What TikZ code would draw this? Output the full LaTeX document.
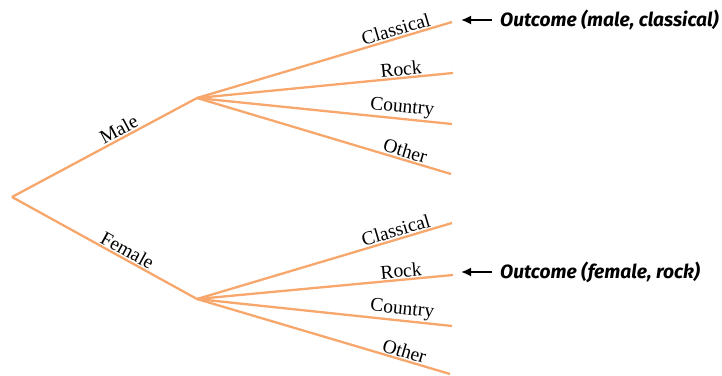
\documentclass[tikz,border=0pt]{standalone}
\usepackage{fontspec}
\setmainfont{Liberation Serif}
\newfontfamily\outfont{Fira Sans}
\usetikzlibrary{arrows.meta}
\definecolor{branch}{RGB}{247,166,108}
\tikzset{
  br/.style={draw=branch, line width=2.3pt},
  lab/.style={above, sloped, inner sep=1.2pt, font=\fontsize{19.5}{21}\selectfont},
  outtxt/.style={anchor=west, inner sep=0pt, font=\outfont\bfseries\itshape\fontsize{19.2}{21}\selectfont},
  outarrow/.style={line width=1.8pt, -{Latex[length=10pt,width=9pt]}}
}
\begin{document}
\begin{tikzpicture}[x=1pt,y=-1pt]
\useasboundingbox (0,0) rectangle (722,375);
\coordinate (root) at (12,197);
\coordinate (male) at (197,98);
\coordinate (female) at (197,299);
\coordinate (mc) at (452,22);
\coordinate (mr) at (453,73);
\coordinate (mo) at (452,124);
\coordinate (mx) at (451,174);
\coordinate (fc) at (452,223);
\coordinate (fr) at (453,275);
\coordinate (fo) at (452,326);
\coordinate (fx) at (450,374);
\draw[br] (root) -- node[lab, pos=0.6] {Male} (male);
\draw[br] (root) -- node[lab, pos=0.6] {Female} (female);
\draw[br] (male) -- node[lab, pos=0.79] {Classical} (mc);
\draw[br] (male) -- node[lab, pos=0.8] {Rock} (mr);
\draw[br] (male) -- node[lab, pos=0.8] {Country} (mo);
\draw[br] (male) -- node[lab, pos=0.81] {Other} (mx);
\draw[br] (female) -- node[lab, pos=0.79] {Classical} (fc);
\draw[br] (female) -- node[lab, pos=0.8] {Rock} (fr);
\draw[br] (female) -- node[lab, pos=0.8] {Country} (fo);
\draw[br] (female) -- node[lab, pos=0.81] {Other} (fx);
\node[outtxt] (o1) at (500,20) {Outcome (male, classical)};
\node[outtxt] (o2) at (500,272) {Outcome (female, rock)};
\coordinate (t1) at (461,20);
\coordinate (t2) at (461,272);
\draw[outarrow] ([xshift=-8pt]o1.west) -- (t1);
\draw[outarrow] ([xshift=-8pt]o2.west) -- (t2);
\end{tikzpicture}
\end{document}
